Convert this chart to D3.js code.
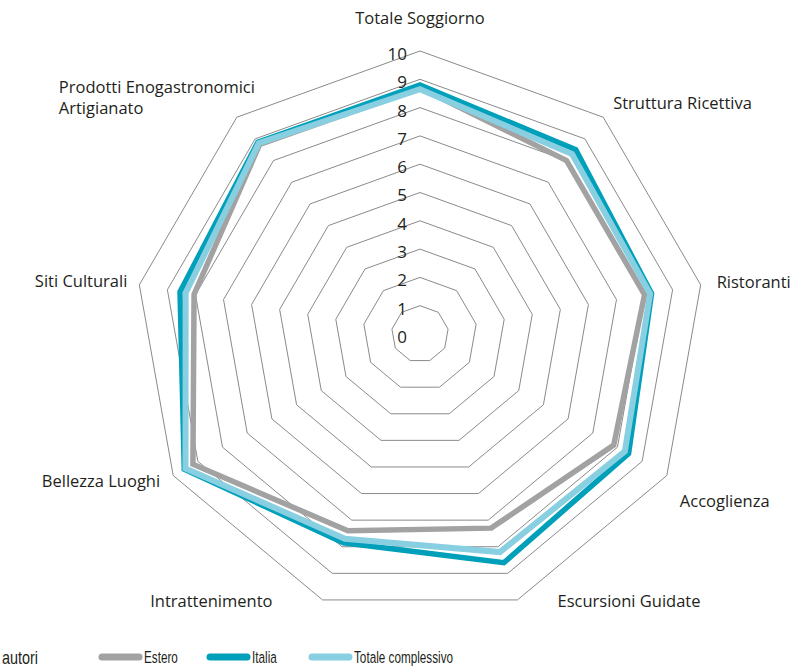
<!DOCTYPE html>
<html>
<head>
<meta charset="utf-8">
<script src="https://cdn.jsdelivr.net/npm/d3@7"></script>
<style>
  body { margin: 0; background: #fff; }
  svg text { fill: #231f20; }
</style>
</head>
<body>
<div class="chart"></div>
<script>
// data
var categories = ["Totale Soggiorno", "Struttura Ricettiva", "Ristoranti", "Accoglienza",
  "Escursioni Guidate", "Intrattenimento", "Bellezza Luoghi", "Siti Culturali",
  "Prodotti Enogastronomici Artigianato"];
var estero = [8.7, 8.0, 8.0, 7.85, 7.3, 7.4, 9.2, 8.05, 8.75];
var italia = [8.8, 8.5, 8.25, 8.45, 8.6, 7.85, 9.55, 8.55, 8.85];
var totale = [8.65, 8.3, 8.2, 8.3, 8.2, 7.7, 9.5, 8.35, 8.8];
var ticks = [0, 1, 2, 3, 4, 5, 6, 7, 8, 9, 10];
var seriesNames = ["Estero", "Italia", "Totale complessivo"];

var colors = ["#a2a2a2", "#00a0ba", "#88cfe1"];
// label nudges, px from the outer vertex
var labelPos = [
  {dx: 0, dy: -33, anchor: "middle"},
  {dx: 10, dy: -14, anchor: "start"},
  {dx: 16, dy: -3, anchor: "start"},
  {dx: 13, dy: 26, anchor: "start"},
  {dx: 40, dy: 1, anchor: "start"},
  {dx: -50, dy: 1, anchor: "end"},
  {dx: -13, dy: 6, anchor: "end"},
  {dx: -12, dy: -4, anchor: "end"},
  {dx: -178, dy: -30, anchor: "start"}
];

var W = 796, H = 668;
var cx = 420, cy = 334;

var svg = d3.select(".chart").append("svg")
  .attr("width", W)
  .attr("height", H)
  .style("font-family", "'Open Sans', 'DejaVu Sans', sans-serif");

var rx = d3.scaleLinear().domain([0, 10]).range([0, 285]);
var ry = d3.scaleLinear().domain([0, 10]).range([0, 283]);
var angle = d3.scalePoint().domain(d3.range(categories.length)).range([0, 2 * Math.PI * (categories.length - 1) / categories.length]);

function pt(i, v) {
  var a = angle(i);
  return [cx + rx(v) * Math.sin(a), cy - ry(v) * Math.cos(a)];
}

var line = d3.line().curve(d3.curveLinearClosed);

// rings
svg.append("g").selectAll("path")
  .data(ticks.slice(1))
  .join("path")
  .attr("d", function(t) { return line(categories.map(function(c, i) { return pt(i, t); })); })
  .attr("fill", "none")
  .attr("stroke", "#8a8a8a")
  .attr("stroke-width", 1);

// tick labels
svg.append("g").selectAll("text")
  .data(ticks)
  .join("text")
  .attr("x", cx - 13)
  .attr("y", function(t) { return cy - ry(t) + 3; })
  .attr("dy", "0.35em")
  .attr("text-anchor", "end")
  .style("font-size", "17px")
  .text(function(t) { return t; });

// series
var series = [estero, italia, totale];
svg.append("g").selectAll("path")
  .data(series)
  .join("path")
  .attr("d", function(s) { return line(s.map(function(v, i) { return pt(i, v); })); })
  .attr("fill", "none")
  .attr("stroke", function(s, i) { return colors[i]; })
  .attr("stroke-width", function(s, i) { return i == 2 ? 6 : 5.5; })
  .attr("stroke-linejoin", "miter");

// category labels
var cat = svg.append("g").selectAll("text")
  .data(categories)
  .join("text")
  .attr("x", function(c, i) { return pt(i, 10)[0] + labelPos[i].dx; })
  .attr("y", function(c, i) { return pt(i, 10)[1] + labelPos[i].dy; })
  .attr("text-anchor", function(c, i) { return labelPos[i].anchor; })
  .style("font-size", "16.5px");

cat.each(function(c, i) {
  var el = d3.select(this);
  var x = el.attr("x");
  var words = c == "Prodotti Enogastronomici Artigianato"
    ? ["Prodotti Enogastronomici", "Artigianato"] : [c];
  el.selectAll("tspan")
    .data(words)
    .join("tspan")
    .attr("x", x)
    .attr("dy", function(w, j) { return j == 0 ? "0.35em" : "1.3em"; })
    .text(function(w) { return w; });
});

// legend (narrow face, squeezed horizontally)
var leg = svg.append("g").style("font-family", "'Liberation Sans', sans-serif");
leg.append("text")
  .attr("transform", "translate(2,658) scale(0.8,1)")
  .attr("dy", "0.35em")
  .style("font-size", "18px")
  .text("autori");

var item = leg.selectAll("g.item")
  .data(seriesNames)
  .join("g")
  .attr("class", "item")
  .attr("transform", function(d, i) { return "translate(" + [102, 210, 312][i] + ",657)"; });

item.append("line")
  .attr("x1", 0)
  .attr("x2", 37)
  .attr("stroke", function(d, i) { return colors[i]; })
  .attr("stroke-width", 7)
  .attr("stroke-linecap", "round");

item.append("text")
  .attr("transform", "translate(42,0) scale(0.69,1)")
  .attr("dy", "0.35em")
  .style("font-size", "17px")
  .text(function(d) { return d; });
</script>
</body>
</html>
